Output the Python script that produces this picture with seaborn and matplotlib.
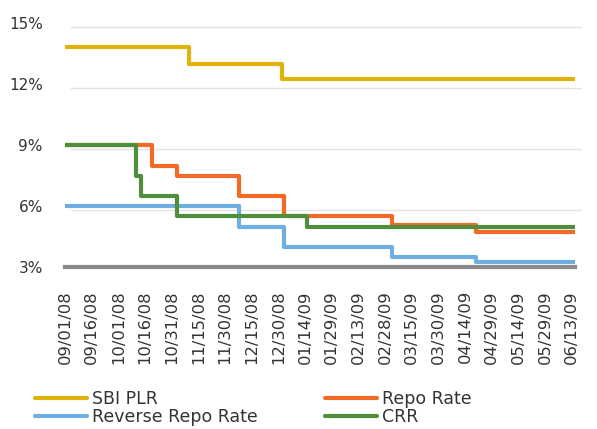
import matplotlib
matplotlib.use("Agg")
import matplotlib.pyplot as plt
import matplotlib.dates as mdates
import matplotlib.transforms as mtransforms
import seaborn as sns
import pandas as pd
import numpy as np

# ---- data (step changes; last entry = end of series) ----
sbi_dates = ["2008-09-01", "2008-11-10", "2009-01-01", "2009-06-15"]
sbi_vals = [13.85, 13.0, 12.25, 12.25]

repo_dates = ["2008-09-01", "2008-10-20", "2008-11-03", "2008-12-08",
              "2009-01-02", "2009-03-04", "2009-04-20", "2009-06-15"]
repo_vals = [9.0, 8.0, 7.5, 6.5, 5.5, 5.1, 4.75, 4.75]

rev_dates = ["2008-09-01", "2008-12-08", "2009-01-02", "2009-03-04",
             "2009-04-20", "2009-06-15"]
rev_vals = [6.0, 5.0, 4.0, 3.5, 3.25, 3.25]

crr_dates = ["2008-09-01", "2008-10-11", "2008-10-14", "2008-11-03",
             "2009-01-15", "2009-06-15"]
crr_vals = [9.0, 7.5, 6.5, 5.5, 5.0, 5.0]

series_names = ["SBI PLR", "Repo Rate", "Reverse Repo Rate", "CRR"]
series_colors = ["#E0B20C", "#F26A26", "#6FAEE0", "#4F8E3B"]

x_tick_start = "2008-09-01"
x_tick_end = "2009-06-13"
x_tick_step_days = 15
y_ticks = [3, 6, 9, 12, 15]

frames = []
for name, d, v in zip(series_names,
                      [sbi_dates, repo_dates, rev_dates, crr_dates],
                      [sbi_vals, repo_vals, rev_vals, crr_vals]):
    frames.append(pd.DataFrame({"date": pd.to_datetime(d), "rate": v, "series": name}))
df = pd.concat(frames, ignore_index=True)

# ---- figure ----
sns.set_style("white")
plt.rcParams["font.family"] = ["DejaVu Sans"]
text_color = "#333333"

W, H = 597, 429
fig = plt.figure(figsize=(W / 100, H / 100), dpi=100)
ax = fig.add_axes([65 / W, 1 - 267.3 / H, (575.3 - 65) / W, (267.3 - 23.3) / H])

sns.lineplot(data=df, x="date", y="rate", hue="series", hue_order=series_names,
             palette=dict(zip(series_names, series_colors)),
             drawstyle="steps-post", linewidth=3.0, ax=ax, legend=False,
             estimator=None, sort=False)

ax.set_xlim(pd.Timestamp(sbi_dates[0]), pd.Timestamp(sbi_dates[-1]))
ax.set_ylim(y_ticks[0], y_ticks[-1])

ticks = pd.date_range(x_tick_start, x_tick_end, freq=f"{x_tick_step_days}D")
ax.set_xticks(ticks)
ax.set_xticklabels([t.strftime("%m/%d/%y") for t in ticks], rotation=90,
                   fontsize=11.8, color=text_color)
ax.set_yticks(y_ticks)
ax.set_yticklabels([f"{t}%" for t in y_ticks], fontsize=11, color=text_color)
ax.tick_params(axis="x", length=0, pad=16.5)
ax.tick_params(axis="y", length=0, pad=16)
ax.set_xlabel("")
ax.set_ylabel("")

for s in ["top", "right", "left"]:
    ax.spines[s].set_visible(False)
ax.spines["bottom"].set_color("#8A8A8A")
ax.spines["bottom"].set_linewidth(3.0)
ax.spines["bottom"].set_zorder(1)

# offset gridlines (as in reference)
off = mtransforms.ScaledTranslation(6 / 100, -3.5 / 100, fig.dpi_scale_trans)
gtrans = ax.get_yaxis_transform() + off
for t in y_ticks[1:]:
    ax.plot([0, 1], [t, t], transform=gtrans, color="#E3E3E3", lw=1.0,
            zorder=0, clip_on=False)

# legend
handles = [plt.Line2D([], [], color=c, lw=3.0) for c in series_colors]
order = [0, 2, 1, 3]
leg = fig.legend([handles[i] for i in order], [series_names[i] for i in order],
                 loc="upper left", bbox_to_anchor=(35 / W, 1 - 390 / H),
                 ncol=2, frameon=False, fontsize=12.5, handlelength=3.0,
                 handletextpad=0.3, columnspacing=3.85, labelspacing=0.0,
                 borderpad=0, borderaxespad=0)
for t in leg.get_texts():
    t.set_color(text_color)

fig.savefig("out.png", dpi=100)
